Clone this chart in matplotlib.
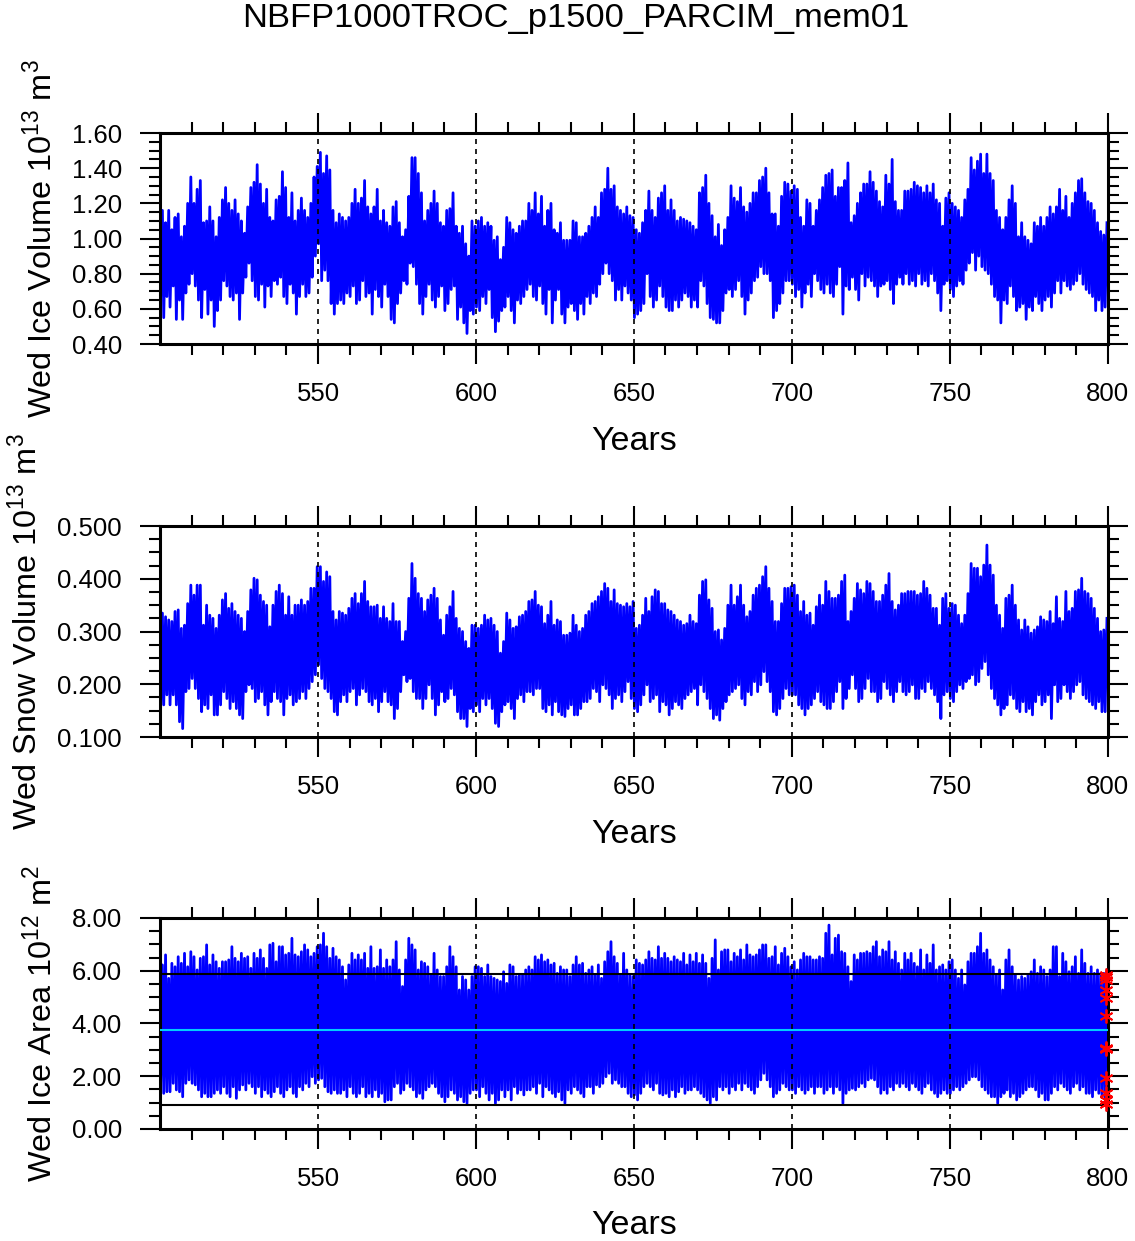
import matplotlib
matplotlib.use("Agg")
import matplotlib.pyplot as plt
from matplotlib.ticker import MultipleLocator, FixedLocator, FormatStrFormatter
import numpy as np

plt.rcParams['font.family'] = ['Liberation Sans', 'DejaVu Sans']
plt.rcParams['mathtext.fontset'] = 'custom'
plt.rcParams['mathtext.rm'] = 'Liberation Sans'

title = "NBFP1000TROC_p1500_PARCIM_mem01"
years = np.arange(500, 800)

# annual max / min of Weddell ice volume (10^13 m^3), one value per year 500..799
ice_vol_max = [
    1.16, 1.09, 1.16, 1.05, 1.12, 1.14, 1.01, 1.07, 1.20, 1.35,
    1.20, 1.28, 1.33, 1.09, 1.10, 1.18, 1.10, 1.01, 1.12, 1.22,
    1.29, 1.20, 1.16, 1.22, 1.14, 1.10, 1.03, 1.18, 1.29, 1.32,
    1.42, 1.31, 1.20, 1.28, 1.12, 1.10, 1.22, 1.24, 1.38, 1.29,
    1.12, 1.26, 1.10, 1.16, 1.23, 1.16, 1.12, 1.20, 1.35, 1.41,
    1.49, 1.37, 1.47, 1.39, 1.16, 1.09, 1.14, 1.12, 1.10, 1.12,
    1.20, 1.28, 1.20, 1.23, 1.33, 1.18, 1.14, 1.18, 1.28, 1.10,
    1.16, 1.09, 1.07, 1.18, 1.21, 1.09, 1.01, 1.05, 1.24, 1.46,
    1.46, 1.37, 1.26, 1.10, 1.16, 1.20, 1.27, 1.20, 1.09, 1.07,
    1.16, 1.17, 1.26, 1.07, 1.03, 1.07, 0.97, 0.90, 1.10, 1.07,
    1.10, 1.12, 1.07, 1.09, 1.07, 0.99, 1.01, 0.88, 0.95, 1.12,
    1.09, 1.05, 1.03, 1.07, 1.10, 1.10, 1.20, 1.16, 1.26, 1.14,
    1.24, 1.07, 1.16, 1.20, 1.05, 1.03, 1.09, 0.99, 0.99, 0.99,
    1.10, 1.09, 1.01, 1.01, 1.03, 1.07, 1.12, 1.18, 1.12, 1.26,
    1.28, 1.40, 1.28, 1.30, 1.18, 1.16, 1.14, 1.18, 1.13, 1.12,
    1.05, 1.03, 1.09, 1.16, 1.27, 1.16, 1.12, 1.23, 1.26, 1.30,
    1.16, 1.22, 1.16, 1.10, 1.12, 1.11, 1.10, 1.09, 1.07, 1.05,
    1.26, 1.29, 1.36, 1.20, 1.13, 1.01, 1.08, 0.96, 1.05, 1.12,
    1.30, 1.23, 1.21, 1.29, 1.18, 1.15, 1.20, 1.26, 1.26, 1.33,
    1.35, 1.40, 1.26, 1.14, 1.14, 1.07, 1.24, 1.32, 1.31, 1.27,
    1.30, 1.28, 1.12, 1.07, 1.22, 1.20, 1.07, 1.16, 1.22, 1.29,
    1.36, 1.37, 1.39, 1.24, 1.29, 1.29, 1.33, 1.43, 1.09, 1.13,
    1.20, 1.26, 1.31, 1.31, 1.38, 1.32, 1.27, 1.21, 1.18, 1.36,
    1.31, 1.45, 1.21, 1.16, 1.16, 1.27, 1.27, 1.28, 1.32, 1.30,
    1.29, 1.26, 1.30, 1.26, 1.31, 1.22, 1.20, 1.07, 1.23, 1.26,
    1.20, 1.18, 1.16, 1.12, 1.22, 1.28, 1.46, 1.39, 1.44, 1.48,
    1.37, 1.48, 1.37, 1.33, 1.16, 1.12, 1.05, 1.12, 1.22, 1.30,
    1.20, 1.01, 1.09, 1.01, 0.99, 0.97, 1.09, 1.07, 1.12, 1.07,
    1.12, 1.18, 1.14, 1.18, 1.28, 1.16, 1.24, 1.12, 1.20, 1.26,
    1.33, 1.34, 1.26, 1.21, 1.20, 1.16, 1.09, 1.04, 1.02, 1.09,
]
ice_vol_min = [
    0.65, 0.55, 0.67, 0.61, 0.73, 0.54, 0.65, 0.54, 0.69, 0.74,
    0.80, 0.73, 0.65, 0.55, 0.71, 0.57, 0.65, 0.50, 0.59, 0.65,
    0.76, 0.73, 0.67, 0.65, 0.69, 0.54, 0.69, 0.78, 0.86, 0.76,
    0.67, 0.65, 0.74, 0.61, 0.73, 0.67, 0.76, 0.74, 0.78, 0.67,
    0.63, 0.74, 0.69, 0.57, 0.67, 0.74, 0.67, 0.69, 0.78, 0.90,
    0.97, 0.76, 0.82, 0.76, 0.63, 0.57, 0.63, 0.65, 0.63, 0.69,
    0.67, 0.73, 0.63, 0.65, 0.76, 0.67, 0.69, 0.57, 0.71, 0.67,
    0.61, 0.74, 0.67, 0.54, 0.52, 0.63, 0.69, 0.76, 0.74, 0.86,
    0.84, 0.74, 0.63, 0.57, 0.67, 0.74, 0.65, 0.61, 0.67, 0.73,
    0.59, 0.63, 0.71, 0.73, 0.54, 0.61, 0.52, 0.46, 0.59, 0.57,
    0.61, 0.59, 0.67, 0.63, 0.71, 0.55, 0.47, 0.53, 0.59, 0.61,
    0.67, 0.59, 0.52, 0.65, 0.63, 0.67, 0.71, 0.74, 0.67, 0.65,
    0.73, 0.63, 0.57, 0.71, 0.52, 0.65, 0.71, 0.57, 0.52, 0.61,
    0.63, 0.59, 0.54, 0.63, 0.57, 0.67, 0.63, 0.69, 0.67, 0.74,
    0.80, 0.86, 0.80, 0.76, 0.65, 0.71, 0.65, 0.73, 0.69, 0.65,
    0.55, 0.57, 0.59, 0.63, 0.80, 0.67, 0.61, 0.65, 0.73, 0.67,
    0.61, 0.59, 0.59, 0.65, 0.61, 0.65, 0.69, 0.67, 0.61, 0.65,
    0.61, 0.76, 0.73, 0.63, 0.55, 0.54, 0.52, 0.52, 0.59, 0.69,
    0.71, 0.67, 0.71, 0.76, 0.67, 0.57, 0.65, 0.69, 0.76, 0.78,
    0.84, 0.80, 0.80, 0.76, 0.55, 0.59, 0.63, 0.69, 0.76, 0.76,
    0.74, 0.67, 0.71, 0.61, 0.69, 0.74, 0.67, 0.80, 0.76, 0.71,
    0.69, 0.74, 0.69, 0.67, 0.74, 0.84, 0.57, 0.73, 0.71, 0.78,
    0.71, 0.65, 0.80, 0.73, 0.78, 0.76, 0.73, 0.67, 0.73, 0.74,
    0.76, 0.71, 0.63, 0.74, 0.78, 0.74, 0.80, 0.74, 0.76, 0.73,
    0.80, 0.74, 0.76, 0.73, 0.80, 0.76, 0.69, 0.59, 0.74, 0.76,
    0.71, 0.67, 0.73, 0.76, 0.74, 0.82, 0.86, 0.92, 0.82, 0.90,
    0.84, 0.82, 0.80, 0.74, 0.67, 0.65, 0.52, 0.65, 0.63, 0.73,
    0.67, 0.59, 0.61, 0.63, 0.54, 0.61, 0.59, 0.67, 0.63, 0.59,
    0.65, 0.67, 0.61, 0.69, 0.76, 0.69, 0.76, 0.73, 0.71, 0.74,
    0.76, 0.80, 0.74, 0.71, 0.69, 0.67, 0.59, 0.65, 0.59, 0.61,
]

# annual max / min of Weddell snow volume (10^13 m^3)
snow_vol_max = [
    0.335, 0.328, 0.322, 0.319, 0.338, 0.341, 0.306, 0.312, 0.353, 0.388,
    0.369, 0.388, 0.388, 0.312, 0.350, 0.331, 0.325, 0.306, 0.331, 0.360,
    0.372, 0.344, 0.353, 0.338, 0.331, 0.325, 0.300, 0.338, 0.379, 0.401,
    0.398, 0.369, 0.357, 0.350, 0.309, 0.350, 0.376, 0.388, 0.372, 0.331,
    0.366, 0.331, 0.350, 0.350, 0.360, 0.350, 0.357, 0.382, 0.382, 0.423,
    0.423, 0.395, 0.413, 0.404, 0.338, 0.322, 0.338, 0.335, 0.331, 0.344,
    0.363, 0.372, 0.353, 0.372, 0.395, 0.357, 0.347, 0.347, 0.350, 0.325,
    0.347, 0.325, 0.319, 0.353, 0.319, 0.319, 0.281, 0.300, 0.363, 0.429,
    0.401, 0.372, 0.363, 0.338, 0.360, 0.369, 0.382, 0.363, 0.322, 0.293,
    0.331, 0.347, 0.376, 0.325, 0.306, 0.300, 0.281, 0.268, 0.312, 0.312,
    0.306, 0.312, 0.331, 0.322, 0.325, 0.312, 0.300, 0.259, 0.281, 0.335,
    0.322, 0.306, 0.309, 0.328, 0.331, 0.338, 0.357, 0.360, 0.376, 0.350,
    0.347, 0.315, 0.331, 0.357, 0.312, 0.322, 0.319, 0.293, 0.293, 0.297,
    0.331, 0.312, 0.300, 0.306, 0.331, 0.338, 0.353, 0.357, 0.366, 0.376,
    0.391, 0.382, 0.357, 0.379, 0.353, 0.350, 0.347, 0.353, 0.347, 0.357,
    0.306, 0.312, 0.331, 0.363, 0.338, 0.366, 0.379, 0.376, 0.353, 0.353,
    0.341, 0.338, 0.331, 0.322, 0.319, 0.312, 0.315, 0.331, 0.319, 0.315,
    0.369, 0.395, 0.398, 0.360, 0.344, 0.300, 0.303, 0.284, 0.306, 0.350,
    0.388, 0.350, 0.366, 0.388, 0.350, 0.328, 0.338, 0.369, 0.382, 0.388,
    0.404, 0.423, 0.382, 0.357, 0.319, 0.319, 0.353, 0.382, 0.382, 0.385,
    0.388, 0.369, 0.338, 0.357, 0.331, 0.335, 0.312, 0.347, 0.369, 0.350,
    0.395, 0.376, 0.363, 0.363, 0.369, 0.395, 0.407, 0.319, 0.338, 0.363,
    0.391, 0.379, 0.372, 0.395, 0.391, 0.376, 0.357, 0.357, 0.369, 0.388,
    0.410, 0.357, 0.341, 0.350, 0.372, 0.372, 0.376, 0.376, 0.376, 0.369,
    0.372, 0.395, 0.382, 0.369, 0.344, 0.344, 0.312, 0.363, 0.372, 0.344,
    0.353, 0.350, 0.331, 0.315, 0.331, 0.372, 0.429, 0.420, 0.420, 0.404,
    0.426, 0.464, 0.426, 0.407, 0.350, 0.331, 0.306, 0.363, 0.369, 0.388,
    0.350, 0.322, 0.303, 0.322, 0.309, 0.297, 0.303, 0.309, 0.328, 0.322,
    0.319, 0.338, 0.315, 0.366, 0.325, 0.319, 0.376, 0.338, 0.344, 0.376,
    0.379, 0.401, 0.376, 0.372, 0.363, 0.344, 0.325, 0.300, 0.303, 0.325,
]
snow_vol_min = [
    0.148, 0.161, 0.180, 0.161, 0.180, 0.161, 0.129, 0.116, 0.186, 0.192,
    0.211, 0.192, 0.173, 0.148, 0.161, 0.154, 0.180, 0.142, 0.142, 0.161,
    0.186, 0.173, 0.154, 0.167, 0.154, 0.142, 0.135, 0.186, 0.199, 0.192,
    0.167, 0.173, 0.186, 0.161, 0.142, 0.167, 0.186, 0.173, 0.167, 0.142,
    0.173, 0.180, 0.161, 0.167, 0.173, 0.186, 0.173, 0.192, 0.205, 0.218,
    0.237, 0.211, 0.192, 0.186, 0.173, 0.148, 0.142, 0.167, 0.180, 0.167,
    0.186, 0.192, 0.161, 0.180, 0.192, 0.186, 0.167, 0.161, 0.173, 0.148,
    0.167, 0.186, 0.167, 0.161, 0.135, 0.154, 0.186, 0.218, 0.205, 0.211,
    0.186, 0.173, 0.173, 0.154, 0.173, 0.199, 0.173, 0.142, 0.161, 0.186,
    0.167, 0.173, 0.192, 0.180, 0.148, 0.135, 0.135, 0.120, 0.154, 0.148,
    0.161, 0.148, 0.173, 0.161, 0.173, 0.154, 0.126, 0.120, 0.148, 0.161,
    0.167, 0.154, 0.135, 0.173, 0.180, 0.167, 0.186, 0.186, 0.180, 0.192,
    0.192, 0.154, 0.148, 0.161, 0.142, 0.167, 0.148, 0.142, 0.139, 0.154,
    0.161, 0.142, 0.142, 0.154, 0.167, 0.167, 0.173, 0.192, 0.186, 0.167,
    0.199, 0.192, 0.180, 0.154, 0.173, 0.180, 0.167, 0.186, 0.205, 0.173,
    0.154, 0.148, 0.161, 0.180, 0.199, 0.167, 0.173, 0.180, 0.148, 0.167,
    0.161, 0.142, 0.154, 0.167, 0.161, 0.154, 0.173, 0.180, 0.186, 0.192,
    0.161, 0.199, 0.186, 0.173, 0.154, 0.135, 0.142, 0.132, 0.154, 0.167,
    0.180, 0.186, 0.192, 0.199, 0.173, 0.161, 0.186, 0.180, 0.205, 0.186,
    0.199, 0.224, 0.205, 0.186, 0.148, 0.142, 0.154, 0.173, 0.192, 0.180,
    0.180, 0.180, 0.161, 0.154, 0.142, 0.154, 0.161, 0.173, 0.186, 0.167,
    0.161, 0.154, 0.154, 0.167, 0.186, 0.205, 0.154, 0.173, 0.192, 0.218,
    0.192, 0.167, 0.173, 0.192, 0.211, 0.186, 0.186, 0.167, 0.173, 0.205,
    0.192, 0.180, 0.167, 0.186, 0.205, 0.186, 0.180, 0.186, 0.199, 0.173,
    0.173, 0.192, 0.186, 0.205, 0.192, 0.180, 0.167, 0.135, 0.180, 0.186,
    0.173, 0.167, 0.186, 0.199, 0.192, 0.205, 0.211, 0.218, 0.199, 0.205,
    0.230, 0.243, 0.218, 0.192, 0.173, 0.161, 0.142, 0.154, 0.161, 0.180,
    0.173, 0.154, 0.148, 0.167, 0.148, 0.154, 0.142, 0.167, 0.180, 0.161,
    0.167, 0.180, 0.135, 0.199, 0.167, 0.173, 0.199, 0.186, 0.173, 0.186,
    0.199, 0.205, 0.180, 0.173, 0.167, 0.161, 0.154, 0.167, 0.148, 0.148,
]

# annual max / min of Weddell ice area (10^12 m^2)
ice_area_max = [
    6.22, 6.60, 5.71, 6.28, 6.15, 6.53, 6.28, 6.66, 6.15, 6.72,
    6.53, 6.03, 6.47, 6.53, 6.98, 6.22, 6.60, 6.34, 6.09, 6.34,
    6.34, 6.41, 6.91, 6.47, 6.34, 6.66, 6.47, 6.53, 6.09, 6.66,
    6.47, 6.79, 6.47, 6.09, 6.98, 7.04, 6.34, 6.91, 6.91, 6.60,
    6.66, 7.23, 6.60, 6.53, 6.72, 6.98, 6.79, 6.53, 6.66, 6.91,
    6.98, 7.42, 6.91, 6.47, 6.85, 6.53, 6.41, 6.15, 5.65, 6.22,
    6.66, 6.41, 6.60, 6.41, 6.66, 6.09, 6.91, 6.09, 6.15, 6.79,
    6.09, 6.41, 6.15, 6.41, 7.10, 6.03, 5.40, 6.41, 7.23, 6.98,
    6.79, 6.03, 6.34, 6.28, 6.15, 5.84, 6.66, 6.03, 5.78, 5.78,
    6.15, 6.91, 6.53, 6.15, 5.27, 5.78, 5.65, 5.27, 5.78, 6.15,
    6.15, 6.09, 5.78, 6.22, 5.78, 5.71, 5.65, 5.59, 5.96, 5.52,
    6.22, 6.15, 5.78, 5.84, 5.84, 6.03, 6.15, 6.03, 6.53, 6.41,
    6.60, 6.34, 6.41, 6.22, 6.28, 5.90, 6.15, 6.03, 6.03, 5.78,
    6.22, 6.53, 6.22, 6.28, 5.90, 6.03, 6.15, 5.84, 6.22, 5.71,
    6.34, 6.72, 7.10, 6.53, 6.28, 5.84, 6.66, 6.03, 5.84, 5.78,
    6.41, 6.28, 6.22, 6.41, 6.72, 6.47, 6.41, 6.91, 6.47, 6.66,
    6.47, 6.34, 6.53, 6.41, 6.34, 6.66, 6.22, 6.60, 6.34, 6.66,
    6.28, 6.60, 6.28, 5.71, 6.47, 7.17, 6.03, 6.72, 6.79, 6.79,
    6.34, 6.66, 6.53, 6.79, 6.41, 6.98, 6.60, 6.53, 6.60, 6.79,
    6.98, 6.98, 6.47, 6.53, 6.91, 6.22, 6.66, 6.85, 6.53, 6.15,
    6.34, 6.03, 6.41, 6.66, 6.53, 6.53, 6.41, 6.41, 6.53, 6.47,
    7.42, 7.73, 6.60, 7.23, 7.35, 6.72, 6.66, 6.15, 5.59, 6.60,
    6.41, 6.66, 6.66, 6.72, 6.66, 6.91, 7.10, 6.53, 6.79, 6.72,
    7.10, 6.41, 6.72, 6.28, 6.03, 6.66, 6.41, 6.66, 6.28, 6.15,
    6.79, 6.03, 6.60, 6.28, 6.98, 6.03, 6.15, 6.22, 6.03, 6.34,
    6.41, 6.03, 5.71, 6.03, 5.46, 6.34, 6.66, 6.66, 6.91, 7.42,
    6.66, 6.79, 6.41, 6.15, 5.84, 6.03, 5.27, 6.41, 6.79, 6.15,
    5.84, 5.65, 5.78, 5.71, 5.84, 5.96, 6.41, 5.90, 6.15, 6.03,
    5.78, 6.03, 6.91, 6.91, 5.78, 6.66, 6.34, 5.96, 6.15, 6.53,
    5.90, 6.79, 6.28, 5.90, 6.15, 5.90, 6.03, 5.90, 5.90, 5.96,
]
ice_area_min = [
    1.60, 1.35, 1.41, 1.41, 1.73, 1.48, 1.41, 1.22, 1.73, 1.86,
    1.73, 1.67, 1.48, 1.22, 1.35, 1.22, 1.22, 1.35, 1.48, 1.35,
    1.60, 1.35, 1.22, 1.60, 1.16, 1.48, 1.67, 1.48, 1.73, 1.60,
    1.35, 1.60, 1.22, 1.48, 1.35, 1.22, 1.41, 1.60, 1.35, 1.22,
    1.48, 1.60, 1.35, 1.22, 1.60, 1.48, 1.73, 1.60, 1.98, 1.73,
    1.86, 1.92, 1.60, 1.41, 1.35, 1.48, 1.35, 1.35, 1.48, 1.22,
    1.60, 1.35, 1.22, 1.35, 1.60, 1.22, 1.35, 1.22, 1.48, 1.22,
    1.35, 1.03, 1.10, 1.10, 1.60, 1.73, 1.35, 1.48, 1.73, 1.60,
    1.48, 1.22, 1.35, 1.16, 1.48, 1.60, 1.73, 1.60, 1.35, 1.22,
    1.03, 1.22, 1.48, 1.35, 1.10, 1.22, 1.03, 0.97, 1.35, 1.48,
    1.48, 1.22, 1.60, 1.35, 1.10, 1.35, 0.97, 1.10, 1.48, 1.22,
    1.48, 1.10, 1.60, 1.35, 1.48, 1.29, 1.48, 1.48, 1.60, 1.35,
    1.73, 1.22, 1.60, 1.48, 1.35, 1.22, 1.41, 1.10, 0.97, 1.48,
    1.35, 1.60, 1.48, 1.35, 1.22, 1.60, 1.60, 1.35, 1.67, 1.60,
    1.73, 1.98, 2.11, 1.73, 1.86, 1.73, 1.60, 1.60, 1.35, 1.22,
    1.29, 1.10, 1.35, 1.60, 1.73, 1.60, 1.48, 1.73, 1.35, 1.29,
    1.35, 1.22, 1.48, 1.22, 1.41, 1.60, 1.35, 1.48, 1.48, 1.60,
    1.48, 1.35, 1.22, 1.10, 0.97, 1.22, 1.10, 1.60, 1.48, 1.60,
    1.35, 1.60, 1.48, 1.73, 1.48, 1.73, 1.60, 1.48, 1.35, 1.60,
    1.86, 2.11, 1.86, 1.60, 1.22, 1.35, 1.48, 1.73, 1.60, 1.48,
    1.48, 1.35, 1.60, 1.48, 1.35, 1.48, 1.60, 1.35, 1.60, 1.60,
    1.35, 1.48, 1.60, 1.35, 1.60, 1.48, 0.97, 1.35, 1.48, 1.54,
    1.48, 1.60, 1.73, 1.60, 1.86, 1.92, 1.86, 1.60, 1.35, 1.48,
    1.35, 1.60, 1.48, 1.73, 1.60, 1.73, 1.60, 1.48, 1.73, 1.60,
    1.48, 1.35, 1.60, 1.73, 1.48, 1.35, 1.22, 1.35, 1.48, 1.35,
    1.35, 1.48, 1.60, 1.48, 1.60, 1.73, 1.86, 1.98, 1.98, 1.86,
    1.60, 1.48, 1.35, 1.22, 1.22, 0.97, 1.22, 1.35, 1.48, 1.22,
    1.35, 1.10, 1.22, 1.35, 1.48, 1.60, 1.60, 1.48, 1.22, 1.35,
    1.10, 1.10, 1.35, 1.60, 1.48, 1.73, 1.60, 1.48, 1.35, 1.60,
    1.73, 1.48, 1.60, 1.35, 1.35, 1.22, 1.48, 1.35, 1.22, 1.10,
]

# monthly climatology of ice area (red asterisks) and reference lines
area_clim = [5.85, 5.77, 5.64, 5.26, 4.95, 4.28, 3.06, 3.02, 1.92, 1.35, 1.10, 0.95]
area_mean = 3.75
area_hi = 5.87
area_lo = 0.91


def zigzag(vmin, vmax):
    # annual minimum in late summer, maximum in late winter
    t = np.column_stack([years + 2 / 12.0, years + 9 / 12.0]).ravel()
    v = np.column_stack([vmin, vmax]).ravel()
    return t, v


panels = [
    (0.7228, 0.40, 1.60, 0.2, 0.05, "%.2f",
     r"Wed Ice Volume 10$^{\mathregular{13}}$ m$^{\mathregular{3}}$", ice_vol_min, ice_vol_max),
    (0.4061, 0.10, 0.50, 0.1, 0.025, "%.3f",
     r"Wed Snow Volume 10$^{\mathregular{13}}$ m$^{\mathregular{3}}$", snow_vol_min, snow_vol_max),
    (0.0903, 0.0, 8.0, 2.0, 0.5, "%.2f",
     r"Wed Ice Area 10$^{\mathregular{12}}$ m$^{\mathregular{2}}$", ice_area_min, ice_area_max),
]

fig = plt.figure(figsize=(11.35, 12.41), dpi=100)
fig.text(576 / 1135.0, 1 - 19 / 1241.0, title, ha="center", va="center", fontsize=24.8)

axes = []
for bottom, y0, y1, major, minor, fmt, label, vmin, vmax in panels:
    ax = fig.add_axes([0.141, bottom, 0.835, 0.170])
    t, v = zigzag(vmin, vmax)
    ax.plot(t, v, color="blue", lw=2.0, zorder=2)

    ax.set_xlim(500, 800)
    ax.set_ylim(y0, y1)
    ax.xaxis.set_major_locator(FixedLocator([550, 600, 650, 700, 750, 800]))
    ax.xaxis.set_minor_locator(FixedLocator([x for x in range(510, 800, 10) if x % 50]))
    ax.yaxis.set_major_locator(MultipleLocator(major))
    ax.yaxis.set_minor_locator(MultipleLocator(minor))
    ax.yaxis.set_major_formatter(FormatStrFormatter(fmt))

    ax.tick_params(which="both", direction="out", top=True, right=True, width=1.5,
                   labelsize=18.5)
    ax.tick_params(which="major", length=14.4, pad=13)
    ax.tick_params(which="minor", length=8)
    ax.tick_params(axis="y", which="major", pad=13)
    for sp in ax.spines.values():
        sp.set_linewidth(2.2)

    for x in [550, 600, 650, 700, 750]:
        ax.axvline(x, color="black", lw=1.2, ls=(0, (3, 3)), zorder=3)

    ax.set_xlabel("Years", fontsize=24.5, labelpad=14)
    ax.set_ylabel(label, fontsize=23.3, labelpad=9)
    axes.append(ax)

ax = axes[2]
ax.axhline(area_hi, color="black", lw=1.5, zorder=3)
ax.axhline(area_lo, color="black", lw=1.5, zorder=3)
ax.axhline(area_mean, color="#00CCFF", lw=1.5, zorder=3)
ax.plot([799.5] * len(area_clim), area_clim, ls="none", marker=(6, 2, 0), ms=10,
        mew=1.3, color="red", clip_on=False, zorder=4)

fig.savefig("out.png", dpi=100)
